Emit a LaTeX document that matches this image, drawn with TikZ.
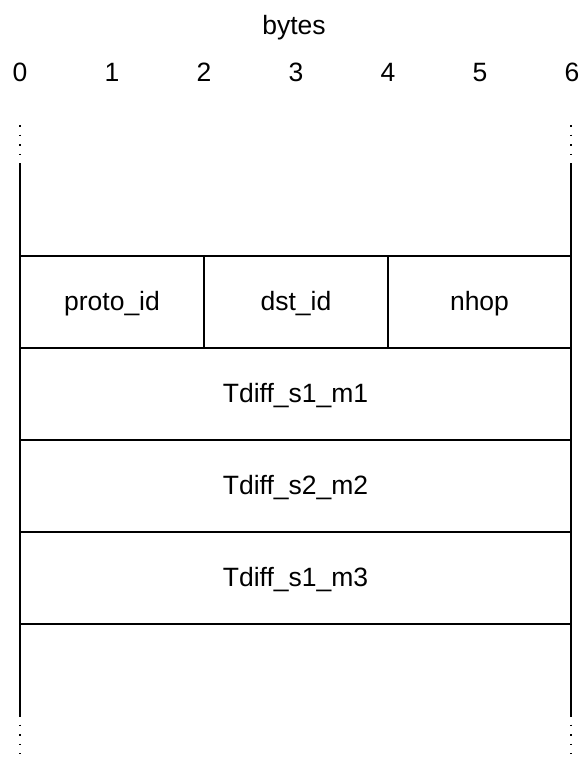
\documentclass[tikz,border=0pt]{standalone}
\usepackage{fontspec}
\setmainfont{Liberation Sans}
\begin{document}
\begin{tikzpicture}[x=1pt,y=-1pt,
  lbl/.style={font=\fontsize{26.5}{31}\selectfont, inner sep=0pt, anchor=base},
  field/.style={draw, line width=2pt, rectangle, inner sep=0pt, minimum height=92pt,
    text height=16.5pt, text depth=0pt, font=\fontsize{26.5}{31}\selectfont},
  wall/.style={line width=2pt},
  dotwall/.style={line width=1.6pt, dash pattern=on 1.6pt off 8pt}]
\useasboundingbox (0,0) rectangle (579,760);
% header
\node[lbl] (bytes) at (294,34.5) {bytes};
\foreach \i in {0,...,6} {
  \node[lbl] (n\i) at (20+92*\i,81.5) {\i};
}
% wall coordinates
\coordinate (lt0) at (20,125);
\coordinate (lt1) at (20,163);
\coordinate (lb1) at (20,715);
\coordinate (lb0) at (20,754);
\coordinate (rt0) at (571,125);
\coordinate (rt1) at (571,163);
\coordinate (rb1) at (571,715);
\coordinate (rb0) at (571,754);
% fields
\node[field, minimum width=184pt] (proto) at (112,302) {proto\_id};
\node[field, minimum width=184pt] (dst) at (296,302) {dst\_id};
\node[field, minimum width=183pt] (nhop) at (479.5,302) {nhop};
\node[field, minimum width=551pt] (t1) at (295.5,394) {Tdiff\_s1\_m1};
\node[field, minimum width=551pt] (t2) at (295.5,486) {Tdiff\_s2\_m2};
\node[field, minimum width=551pt] (t3) at (295.5,578) {Tdiff\_s1\_m3};
% walls
\draw[wall] (lt1) -- (lb1);
\draw[wall] (rt1) -- (rb1);
\draw[dotwall] (lt0) -- (lt1);
\draw[dotwall] (rt0) -- (rt1);
\draw[dotwall] (lb1) -- (lb0);
\draw[dotwall] (rb1) -- (rb0);
\end{tikzpicture}
\end{document}
